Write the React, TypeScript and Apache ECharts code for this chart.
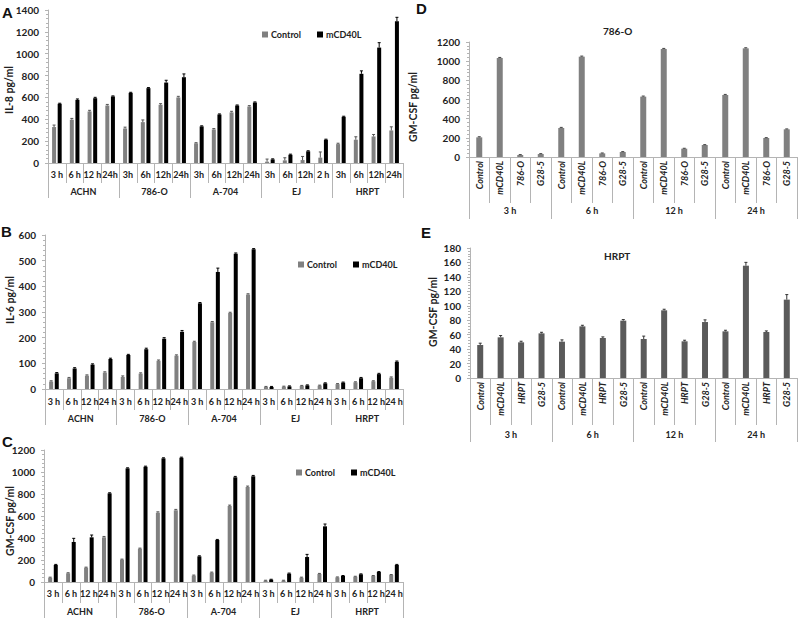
import React, { useEffect, useRef } from "react";
import * as echarts from "echarts";

// ---------- Data ----------
const cellLines = ["ACHN", "786-O", "A-704", "EJ", "HRPT"];
const timesA = ["3 h", "6 h", "12 h", "24h", "3h", "6h", "12h", "24h", "3h", "6h", "12h", "24h", "3h", "6h", "12h", "2 h", "3h", "6h", "12h", "24h"];
const timesBC = ["3 h", "6 h", "12 h", "24 h", "3 h", "6 h", "12 h", "24 h", "3 h", "6 h", "12 h", "24 h", "3 h", "6 h", "12 h", "24 h", "3 h", "6 h", "12 h", "24 h"];

const il8Control = [329, 396, 472, 526, 316, 374, 533, 600, 180, 307, 463, 517, 12, 24, 27, 49, 173, 213, 243, 298];
const il8Cd40l = [542, 578, 593, 609, 642, 685, 736, 785, 335, 444, 526, 554, 33, 76, 107, 213, 423, 816, 1056, 1296];
const il8ControlErr = [18, 12, 10, 10, 12, 20, 10, 10, 6, 8, 10, 8, 24, 24, 33, 52, 8, 27, 18, 33];
const il8Cd40lErr = [5, 8, 8, 5, 5, 5, 21, 30, 5, 5, 5, 5, 5, 5, 5, 5, 5, 27, 45, 37];

const il6Control = [29, 42, 52, 64, 47, 60, 110, 130, 183, 260, 296, 368, 8, 9, 12, 13, 19, 26, 30, 44];
const il6Cd40l = [61, 80, 95, 117, 132, 155, 196, 223, 334, 456, 527, 544, 8, 10, 14, 22, 25, 42, 58, 106];
const il6ControlErr = [3, 3, 3, 3, 4, 3, 3, 3, 3, 3, 3, 3, 2, 2, 2, 2, 2, 2, 2, 3];
const il6Cd40lErr = [3, 3, 3, 3, 3, 4, 4, 5, 3, 15, 3, 3, 2, 2, 2, 2, 2, 3, 3, 3];

const gmControl = [39, 79, 130, 406, 203, 303, 630, 652, 58, 85, 691, 864, 12, 12, 39, 73, 42, 48, 55, 64];
const gmCd40l = [155, 364, 406, 806, 1033, 1048, 1124, 1130, 233, 382, 952, 961, 21, 76, 227, 506, 55, 70, 91, 155];
const gmControlErr = [5, 5, 5, 8, 5, 5, 8, 8, 5, 5, 8, 8, 4, 4, 5, 5, 4, 4, 4, 4];
const gmCd40lErr = [5, 33, 21, 5, 5, 5, 5, 5, 5, 5, 8, 8, 4, 5, 24, 21, 4, 4, 4, 5];

const timeGroups = ["3 h", "6 h", "12 h", "24 h"];
const treatD = ["Control", "mCD40L", "786-O", "G28-5", "Control", "mCD40L", "786-O", "G28-5", "Control", "mCD40L", "786-O", "G28-5", "Control", "mCD40L", "786-O", "G28-5"];
const gm786 = [205, 1033, 21, 31, 303, 1047, 38, 52, 630, 1127, 87, 125, 647, 1134, 198, 289];
const gm786Err = [6, 6, 4, 4, 6, 6, 4, 4, 6, 6, 4, 4, 6, 6, 4, 4];

const treatE = ["Control", "mCD40L", "HRPT", "G28-5", "Control", "mCD40L", "HRPT", "G28-5", "Control", "mCD40L", "HRPT", "G28-5", "Control", "mCD40L", "HRPT", "G28-5"];
const gmHrpt = [45.7, 56.3, 49.4, 61.8, 50.3, 71.5, 55.4, 79.4, 54, 93.7, 50.8, 77.5, 64.6, 155.5, 63.7, 108.5];
const gmHrptErr = [2.5, 2.5, 1.5, 1.5, 2.5, 1.5, 1.5, 1.5, 4, 1.5, 1.5, 3, 1.5, 4.6, 1.5, 7];

// ---------- Styles ----------
const FONT = "Lato, 'Open Sans', sans-serif";
const AX = "#b4b4b4";
const GRAY = "#808080";
const BLACK = "#000000";
const DGRAY = "#5a5a5a";

function catAxis(grid: number, data: string[], tickLen: number, margin: number, extra: any = {}) {
  return {
    type: "category",
    gridIndex: grid,
    data,
    position: "bottom",
    axisLine: { show: true, lineStyle: { color: AX, width: 1 } },
    axisTick: { show: true, interval: 0, alignWithLabel: false, length: tickLen, lineStyle: { color: AX } },
    axisLabel: {
      interval: 0,
      margin,
      fontSize: 9,
      fontWeight: "bold",
      color: "#222",
      fontFamily: FONT,
      ...extra,
    },
    splitLine: { show: false },
  };
}

function groupAxis(grid: number, data: string[], tickLen: number, margin: number) {
  return {
    type: "category",
    gridIndex: grid,
    data,
    position: "bottom",
    axisLine: { show: false },
    axisTick: { show: true, interval: 0, alignWithLabel: false, length: tickLen, lineStyle: { color: AX } },
    axisLabel: { interval: 0, margin, fontSize: 9, fontWeight: "bold", color: "#222", fontFamily: FONT },
    splitLine: { show: false },
  };
}

function valAxis(grid: number, max: number, interval: number) {
  return {
    type: "value",
    gridIndex: grid,
    min: 0,
    max,
    interval,
    axisLine: { show: true, lineStyle: { color: AX } },
    axisTick: { show: true, length: 3, lineStyle: { color: AX } },
    minorTick: { show: true, splitNumber: 5, length: 2, lineStyle: { color: AX } },
    splitLine: { show: false },
    axisLabel: {
      fontSize: 10,
      fontWeight: "bold",
      color: "#222",
      fontFamily: FONT,
      margin: 9,
      formatter: (v: number) => String(v),
    },
  };
}

function bar(name: string, axis: number, data: number[], color: string, width: number) {
  return {
    type: "bar",
    name,
    xAxisIndex: axis * 2,
    yAxisIndex: axis,
    data,
    barWidth: width,
    barGap: "40%",
    itemStyle: { color },
    z: 2,
  };
}

function errs(name: string, axis: number, vals: number[], err: number[], offset: number, color: string) {
  return {
    type: "custom",
    name,
    xAxisIndex: axis * 2,
    yAxisIndex: axis,
    data: vals.map((v, i) => [i, v, err[i]]),
    encode: { x: 0, y: 1 },
    silent: true,
    z: 5,
    renderItem: (params: any, api: any) => {
      const i = api.value(0);
      const v = api.value(1);
      const e = api.value(2);
      const base = api.coord([i, v]);
      const top = api.coord([i, v + e]);
      const x = base[0] + offset;
      return {
        type: "group",
        children: [
          { type: "line", shape: { x1: x, y1: base[1], x2: x, y2: top[1] }, style: { stroke: color, lineWidth: 1 } },
          { type: "line", shape: { x1: x - 1.5, y1: top[1], x2: x + 1.5, y2: top[1] }, style: { stroke: color, lineWidth: 1 } },
        ],
      };
    },
  };
}

function legend(left: number, top: number) {
  return {
    left,
    top,
    data: ["Control", "mCD40L"],
    icon: "rect",
    itemWidth: 6,
    itemHeight: 6,
    itemGap: 16,
    textStyle: { fontSize: 9, fontWeight: "bold", color: "#222", fontFamily: FONT, padding: [0, 0, 0, -2] },
    selectedMode: false,
  };
}

function label(text: string, x: number, y: number, size: number) {
  return {
    type: "text",
    left: x,
    top: y,
    style: { text, fontSize: size, fontWeight: "bold", fill: "#111", fontFamily: "Arial, 'Liberation Sans', sans-serif" },
  };
}

function yName(text: string, x: number, y: number) {
  return {
    type: "text",
    x,
    y,
    rotation: Math.PI / 2,
    style: {
      text,
      fontSize: 10.5,
      fontWeight: "bold",
      fill: "#222",
      fontFamily: FONT,
      align: "center",
      verticalAlign: "middle",
    },
  };
}

export default function App() {
  const ref = useRef<HTMLDivElement>(null);
  useEffect(() => {
    if (!ref.current) return;
    const chart = echarts.init(ref.current, undefined, { renderer: "svg" });
    const off = 2.8;
    const option: any = {
      animation: false,
      backgroundColor: "#ffffff",
      grid: [
        { left: 48, top: 10, width: 355, height: 153 },
        { left: 45, top: 235, width: 358, height: 154 },
        { left: 44, top: 450, width: 359, height: 132 },
        { left: 469, top: 42, width: 328, height: 115 },
        { left: 470, top: 248, width: 327, height: 130 },
      ],
      xAxis: [
        catAxis(0, timesA, 20, 7),
        groupAxis(0, cellLines, 35, 24),
        catAxis(1, timesBC, 21, 8),
        groupAxis(1, cellLines, 36, 25),
        catAxis(2, timesBC, 21, 7),
        groupAxis(2, cellLines, 36, 25),
        catAxis(3, treatD, 46, 4, { rotate: 90, fontStyle: "italic" }),
        groupAxis(3, timeGroups, 62, 49),
        catAxis(4, treatE, 47, 4, { rotate: 90, fontStyle: "italic" }),
        groupAxis(4, timeGroups, 64, 52),
      ],
      yAxis: [
        valAxis(0, 1400, 200),
        valAxis(1, 600, 100),
        valAxis(2, 1200, 200),
        valAxis(3, 1200, 200),
        valAxis(4, 180, 20),
      ],
      legend: [legend(257, 25), legend(293, 255), legend(291, 463)],
      series: [
        bar("Control", 0, il8Control, GRAY, 4),
        bar("mCD40L", 0, il8Cd40l, BLACK, 4),
        errs("eA1", 0, il8Control, il8ControlErr, -off, "#555"),
        errs("eA2", 0, il8Cd40l, il8Cd40lErr, off, "#000"),
        bar("Control", 1, il6Control, GRAY, 4),
        bar("mCD40L", 1, il6Cd40l, BLACK, 4),
        errs("eB1", 1, il6Control, il6ControlErr, -off, "#555"),
        errs("eB2", 1, il6Cd40l, il6Cd40lErr, off, "#000"),
        bar("Control", 2, gmControl, GRAY, 4),
        bar("mCD40L", 2, gmCd40l, BLACK, 4),
        errs("eC1", 2, gmControl, gmControlErr, -off, "#555"),
        errs("eC2", 2, gmCd40l, gmCd40lErr, off, "#000"),
        bar("786-O", 3, gm786, GRAY, 6),
        errs("eD", 3, gm786, gm786Err, 0, "#444"),
        bar("HRPT", 4, gmHrpt, DGRAY, 6),
        errs("eE", 4, gmHrpt, gmHrptErr, 0, "#333"),
      ],
      graphic: [
        label("A", 2, 5, 15),
        label("B", 1, 224, 15),
        label("C", 2, 434, 15),
        label("D", 416, 1, 15),
        label("E", 421, 225, 15),
        yName("IL-8 pg/ml", 9, 90),
        yName("IL-6 pg/ml", 10, 300),
        yName("GM-CSF pg/ml", 10, 521),
        yName("GM-CSF pg/ml", 413, 107),
        yName("GM-CSF pg/ml", 433, 312),
        { type: "text", left: 603, top: 26, style: { text: "786-O", fontSize: 10, fontWeight: "bold", fill: "#222", fontFamily: FONT } },
        { type: "text", left: 604, top: 251, style: { text: "HRPT", fontSize: 10, fontWeight: "bold", fill: "#222", fontFamily: FONT } },
      ],
    };
    chart.setOption(option);
    return () => chart.dispose();
  }, []);
  return <div ref={ref} style={{ position: "fixed", left: 0, top: 0, width: 798, height: 618 }} />;
}
